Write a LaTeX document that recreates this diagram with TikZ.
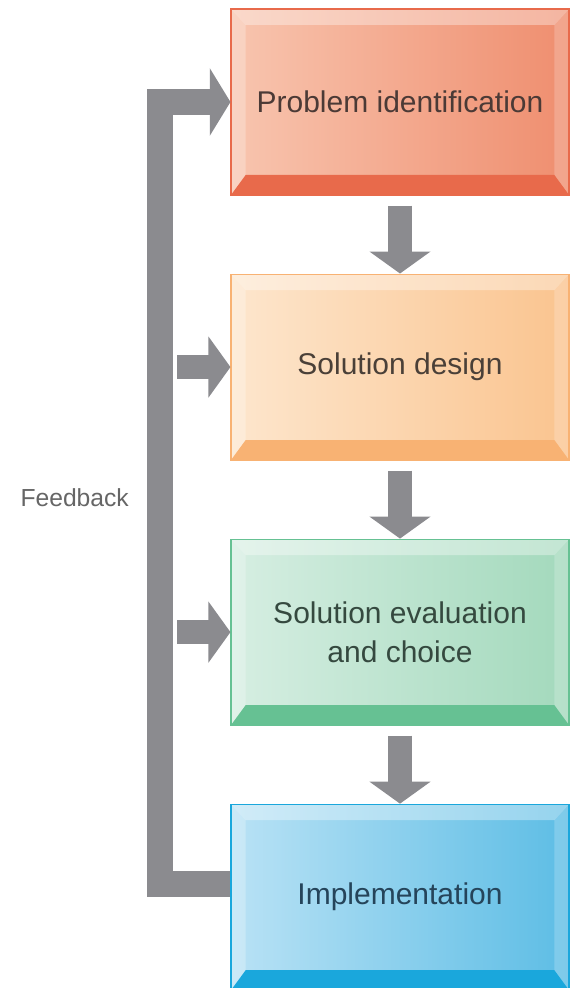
\documentclass[tikz,border=0pt]{standalone}
\usepackage{fontspec}
\setsansfont{Liberation Sans}
\usetikzlibrary{positioning}
\usetikzlibrary{arrows.meta}
\definecolor{redlight}{HTML}{F8C5AF}
\definecolor{redmid}{HTML}{EF8E6F}
\definecolor{reddark}{HTML}{E86A4B}
\definecolor{redtext}{HTML}{4B3A36}
\definecolor{orangelight}{HTML}{FDE6CD}
\definecolor{orangemid}{HTML}{FAC48F}
\definecolor{orangedark}{HTML}{F8B273}
\definecolor{orangetext}{HTML}{4A4038}
\definecolor{greenlight}{HTML}{D6EEE2}
\definecolor{greenmid}{HTML}{A3D9BC}
\definecolor{greendark}{HTML}{66C193}
\definecolor{greentext}{HTML}{35493F}
\definecolor{bluelight}{HTML}{B9E2F5}
\definecolor{bluemid}{HTML}{5DBDE5}
\definecolor{bluedark}{HTML}{1AA7DC}
\definecolor{bluetext}{HTML}{25445A}
\definecolor{arrowgray}{HTML}{8B8B8F}
\tikzset{
	stage/.style n args={4}{
		rectangle,
		left color=#1, right color=#2,
		draw=#3, line width=.8pt,
		minimum width=253.5pt,
		minimum height=139.5pt,
		inner sep=0pt,
		align=center,
		text=#4,
		font=\sffamily\fontsize{22.5pt}{29pt}\selectfont,
		path picture={
			% bevelled rim
			\fill[white,opacity=.35] (path picture bounding box.north west) -- (path picture bounding box.north east) -- ++(-11pt,-12pt) -- ([shift={(11pt,-12pt)}]path picture bounding box.north west) -- cycle;
			\fill[white,opacity=.25] (path picture bounding box.north west) -- ++(11pt,-12pt) -- ([shift={(11pt,15pt)}]path picture bounding box.south west) -- (path picture bounding box.south west) -- cycle;
			\fill[white,opacity=.2] (path picture bounding box.north east) -- ++(-11pt,-12pt) -- ([shift={(-11pt,15pt)}]path picture bounding box.south east) -- (path picture bounding box.south east) -- cycle;
			\fill[#3] (path picture bounding box.south west) -- (path picture bounding box.south east) -- ++(-11pt,15pt) -- ([shift={(11pt,15pt)}]path picture bounding box.south west) -- cycle;
		}},
	flow/.style={draw=arrowgray, line width=18pt,
		-{Triangle[length=16.5pt,width=45pt]}},
	feedback/.style={flow, line width=19.5pt, -{Triangle[length=15.5pt,width=50pt]}},
	fblabel/.style={text=black!60, font=\sffamily\fontsize{18.5pt}{22pt}\selectfont},
}
\begin{document}
\begin{tikzpicture}
	[node distance=58.5pt, font=\sffamily]
	\useasboundingbox (0,0) rectangle (428.25pt,-741pt);
	\node[stage={redlight}{redmid}{reddark}{redtext}] (ident) at (300pt,-76.5pt) {Problem identification};
	\node[stage={orangelight}{orangemid}{orangedark}{orangetext}, below=of ident] (design) {Solution design};
	\node[stage={greenlight}{greenmid}{greendark}{greentext}, below=of design] (choice) {Solution evaluation\\and choice};
	\node[stage={bluelight}{bluemid}{bluedark}{bluetext}, below=of choice] (impl) {Implementation};
	\node[fblabel] (fbtext) at (56pt,-373.5pt) {Feedback};
	
	\coordinate (fb) at (120pt,0);
	\coordinate (fbin) at (133pt,0);
	\draw[feedback] ([yshift=9.75pt]impl.west) -| (fb |- ident.west) -- (ident.west);
	\draw[flow] (fbin |- design.west) -- (design.west);
	\draw[flow] (fbin |- choice.west) -- (choice.west);
	
	\draw[flow] ([yshift=-7.5pt]ident.south) -- (design.north);
	\draw[flow] ([yshift=-7.5pt]design.south) -- (choice.north);
	\draw[flow] ([yshift=-7.5pt]choice.south) -- (impl.north);
\end{tikzpicture}
\end{document}
